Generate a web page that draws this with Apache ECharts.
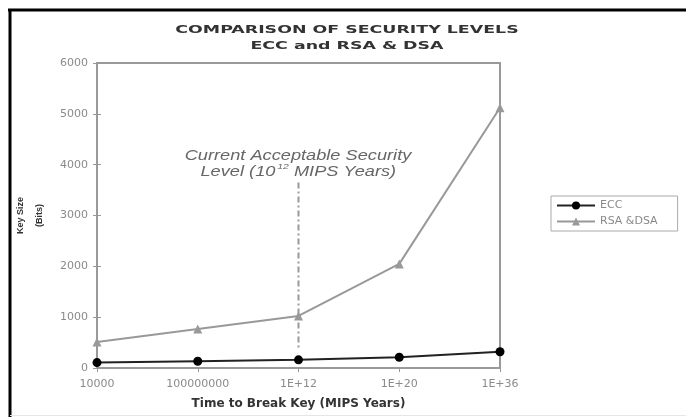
<!DOCTYPE html>
<html>
<head>
<meta charset="utf-8">
<script src="https://cdn.jsdelivr.net/npm/echarts@6/dist/echarts.min.js"></script>
<style>
  html, body { margin: 0; padding: 0; background: #fff; }
  #chart { width: 686px; height: 417px; }
</style>
</head>
<body>
<div id="chart"></div>
<script>
// 时间类别与密钥长度
const categories = ["10000", "100000000", "1E+12", "1E+20", "1E+36"];
const eccBits = [106, 132, 160, 211, 320];
const rsaBits = [512, 768, 1024, 2048, 5120];
const yTicks = [0, 1000, 2000, 3000, 4000, 5000, 6000];
// 当前可接受安全级别竖线 (上端, 下端)
const levelCategory = "1E+12";
const levelRange = [3650, 350];

const gray = "#8a8a8a";
const noteFont = "italic 14px 'Liberation Sans'";

const chart = echarts.init(document.getElementById("chart"));

const options = {
  animation: false,
  grid: {
    left: 97,
    right: 186,
    top: 63,
    bottom: 49,
    outerBoundsMode: "none",
    show: true,
    borderColor: "#999",
    borderWidth: 2,
  },
  legend: {
    left: 551,
    top: 196,
    orient: "vertical",
    itemWidth: 38,
    itemHeight: 10,
    itemGap: 5,
    padding: [4, 20, 4, 5],
    borderColor: "#aaa",
    borderWidth: 1,
    textStyle: { color: gray, fontSize: 11, fontFamily: "DejaVu Sans" },
    data: ["ECC", "RSA &DSA"],
  },
  xAxis: {
    type: "category",
    boundaryGap: false,
    data: categories,
    name: "Time to Break Key (MIPS Years)",
    nameLocation: "middle",
    nameGap: 30,
    nameTextStyle: {
      color: "#333",
      fontSize: 12,
      fontWeight: "bold",
      fontFamily: "DejaVu Sans",
    },
    axisLine: { lineStyle: { color: "#999", width: 2 } },
    axisTick: { alignWithLabel: true, length: 4, lineStyle: { color: "#999" } },
    axisLabel: { color: gray, fontSize: 11, margin: 11, fontFamily: "DejaVu Sans" },
  },
  yAxis: [
    {
      type: "value",
      min: yTicks[0],
      max: yTicks[yTicks.length - 1],
      interval: 1000,
      name: "Key Size\n(Bits)",
      nameLocation: "middle",
      nameGap: 48,
      nameRotate: 90,
      nameTextStyle: {
        color: "#333",
        fontSize: 9,
        fontWeight: "bold",
        lineHeight: 19,
        fontFamily: "Liberation Sans",
      },
      splitLine: { show: false },
      axisLine: { show: true, lineStyle: { color: "#999", width: 2 } },
      axisTick: { show: true, length: 4, lineStyle: { color: "#999" } },
      axisLabel: {
        color: gray,
        fontSize: 11,
        margin: 9,
        fontFamily: "DejaVu Sans",
        formatter: (v) => String(v),
      },
    },
    {
      type: "value",
      position: "left",
      min: yTicks[0],
      max: yTicks[yTicks.length - 1],
      interval: 1000,
      splitLine: { show: false },
      axisLine: { show: false },
      axisTick: { show: true, inside: true, length: 4, lineStyle: { color: "#999" } },
      axisLabel: { show: false },
    },
  ],
  series: [
    {
      name: "RSA &DSA",
      type: "line",
      data: rsaBits,
      symbol: "triangle",
      symbolSize: 9,
      lineStyle: { color: "#999", width: 2 },
      itemStyle: { color: "#999" },
      z: 3,
    },
    {
      name: "ECC",
      type: "line",
      data: eccBits,
      symbol: "circle",
      symbolSize: 9,
      lineStyle: { color: "#222", width: 2 },
      itemStyle: { color: "#000" },
      z: 4,
    },
    {
      name: "level",
      type: "line",
      data: levelRange.map((v) => [levelCategory, v]),
      symbol: "none",
      lineStyle: { color: "#999", width: 2, type: [6, 3, 2, 3] },
      silent: true,
      z: 2,
    },
  ],
  graphic: [
    // 标题 (横向拉伸)
    {
      type: "text",
      x: 347,
      y: 22,
      scaleX: 1.58,
      style: {
        text: "COMPARISON OF SECURITY LEVELS\nECC and RSA & DSA",
        font: "bold 11px 'DejaVu Sans'",
        fill: "#333",
        align: "center",
        verticalAlign: "top",
        lineHeight: 16,
      },
    },
    // 注释文字
    {
      type: "text",
      x: 298,
      y: 149,
      scaleX: 1.3,
      style: {
        text: "Current Acceptable Security",
        font: noteFont,
        fill: "#666",
        align: "center",
        verticalAlign: "top",
      },
    },
    {
      type: "group",
      x: 298,
      y: 165,
      scaleX: 1.3,
      children: [
        {
          type: "text",
          x: -75,
          style: { text: "Level (10", font: noteFont, fill: "#666", verticalAlign: "top" },
        },
        {
          type: "text",
          x: -16,
          y: -2,
          style: { text: "12", font: "italic 8px 'Liberation Sans'", fill: "#666", verticalAlign: "top" },
        },
        {
          type: "text",
          x: -7,
          style: { text: " MIPS Years)", font: noteFont, fill: "#666", verticalAlign: "top" },
        },
      ],
    },
    // 外框
    {
      type: "line",
      shape: { x1: 8, y1: 10, x2: 686, y2: 10 },
      style: { stroke: "#000", lineWidth: 3 },
    },
    {
      type: "line",
      shape: { x1: 10, y1: 10, x2: 10, y2: 417 },
      style: { stroke: "#000", lineWidth: 3 },
    },
    {
      type: "line",
      shape: { x1: 10, y1: 415.5, x2: 686, y2: 415.5 },
      style: { stroke: "#e6e6e6", lineWidth: 1 },
    },
  ],
};

chart.setOption(options);

window.addEventListener("resize", () => {
  chart.resize();
});
</script>
</body>
</html>
